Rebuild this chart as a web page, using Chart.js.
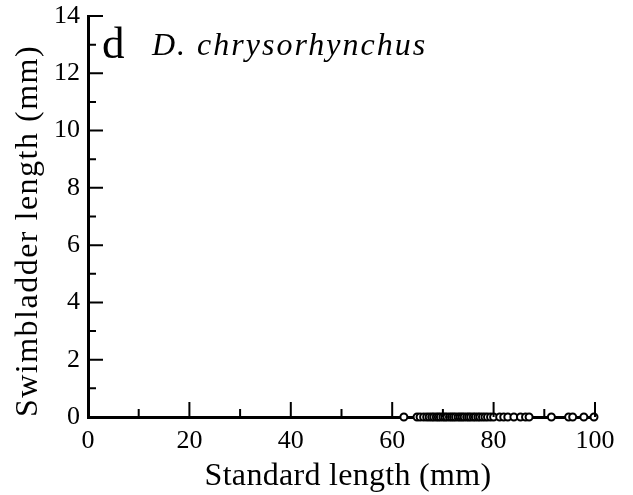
<!DOCTYPE html>
<html>
<head>
<meta charset="utf-8">
<script src="https://cdn.jsdelivr.net/npm/chart.js@4"></script>
<style>
  html, body { margin: 0; padding: 0; background: #fff; }
  #wrap { width: 633px; height: 495px; }
</style>
</head>
<body>
<div id="wrap"><canvas id="chart" width="633" height="495"></canvas></div>
<script>
// Standard length (mm) of each fish; swimbladder length is 0 for all
const standardLength = [
  62.3, 64.9, 65.5, 66.2, 66.8, 67.3, 67.8, 68.2, 68.7, 69.1,
  69.5, 70.0, 70.4, 70.8, 71.3, 71.7, 72.1, 72.5, 73.0, 73.4,
  73.8, 74.2, 74.7, 75.1, 75.5, 76.0, 76.4, 76.9, 77.3, 77.8,
  78.3, 78.8, 79.4, 80.0, 81.2, 82.0, 82.8, 84.0, 85.3, 86.3,
  87.0, 91.4, 94.8, 95.6, 97.8, 99.8
];
const swimbladderLength = standardLength.map(() => 0);

const xMajorTicks = [0, 20, 40, 60, 80, 100];
const xMinorTicks = [10, 30, 50, 70, 90];
const yMajorTicks = [0, 2, 4, 6, 8, 10, 12, 14];
const yMinorTicks = [1, 3, 5, 7, 9, 11, 13];

const panelLetter = 'd';
const speciesName = 'D. chrysorhynchus';
const xTitle = 'Standard length (mm)';
const yTitle = 'Swimbladder length (mm)';

const serif = '"Liberation Serif", "Times New Roman", serif';

// ticks point into the plot; titles and panel label drawn here too
const decorations = {
  id: 'decorations',
  afterDraw(chart) {
    const ctx = chart.ctx;
    const x = chart.scales.x;
    const y = chart.scales.y;
    const left = chart.chartArea.left;
    const bottom = chart.chartArea.bottom;
    ctx.save();
    ctx.strokeStyle = '#000';
    ctx.lineWidth = 2;
    ctx.beginPath();
    xMajorTicks.forEach(v => {
      const px = x.getPixelForValue(v);
      ctx.moveTo(px, bottom); ctx.lineTo(px, bottom - 15);
    });
    xMinorTicks.forEach(v => {
      const px = x.getPixelForValue(v);
      ctx.moveTo(px, bottom); ctx.lineTo(px, bottom - 8);
    });
    yMajorTicks.forEach(v => {
      const py = y.getPixelForValue(v);
      ctx.moveTo(left, py); ctx.lineTo(left + 15, py);
    });
    yMinorTicks.forEach(v => {
      const py = y.getPixelForValue(v);
      ctx.moveTo(left, py); ctx.lineTo(left + 8, py);
    });
    ctx.stroke();

    ctx.fillStyle = '#000';
    ctx.textBaseline = 'alphabetic';
    ctx.textAlign = 'left';
    ctx.font = '45px ' + serif;
    ctx.fillText(panelLetter, 102, 58);
    ctx.font = 'italic 32px ' + serif;
    ctx.letterSpacing = '2px';
    ctx.fillText(speciesName, 152, 55);

    ctx.textAlign = 'center';
    ctx.font = '32px ' + serif;
    ctx.letterSpacing = '0.3px';
    ctx.fillText(xTitle, 348, 485);

    ctx.translate(37, 231);
    ctx.rotate(-Math.PI / 2);
    ctx.letterSpacing = '1.5px';
    ctx.fillText(yTitle, 0, 0);
    ctx.restore();
  }
};

new Chart(document.getElementById('chart'), {
  type: 'scatter',
  data: {
    datasets: [{
      data: standardLength.map((v, i) => ({ x: v, y: swimbladderLength[i] })),
      pointStyle: 'circle',
      pointRadius: 3.5,
      pointBorderWidth: 2,
      pointBorderColor: '#000',
      pointBackgroundColor: '#fff',
      clip: false
    }]
  },
  options: {
    responsive: false,
    animation: false,
    layout: { padding: { top: 16, right: 38, left: 0, bottom: 0 } },
    plugins: { legend: { display: false }, tooltip: { enabled: false } },
    scales: {
      x: {
        type: 'linear',
        min: 0,
        max: 100,
        afterBuildTicks: axis => { axis.ticks = xMajorTicks.map(v => ({ value: v })); },
        afterFit: axis => { axis.height = 78; axis.paddingLeft = 0; axis.paddingRight = 0; },
        grid: { display: false, drawTicks: false },
        border: { display: true, color: '#000', width: 3 },
        ticks: { color: '#000', font: { family: serif, size: 26 }, padding: 9 }
      },
      y: {
        type: 'linear',
        min: 0,
        max: 14,
        afterBuildTicks: axis => { axis.ticks = yMajorTicks.map(v => ({ value: v })); },
        afterFit: axis => { axis.width = 88; axis.paddingTop = 0; axis.paddingBottom = 0; },
        grid: { display: false, drawTicks: false },
        border: { display: true, color: '#000', width: 3 },
        ticks: { color: '#000', font: { family: serif, size: 26 }, padding: 8 }
      }
    }
  },
  plugins: [decorations]
});
</script>
</body>
</html>
